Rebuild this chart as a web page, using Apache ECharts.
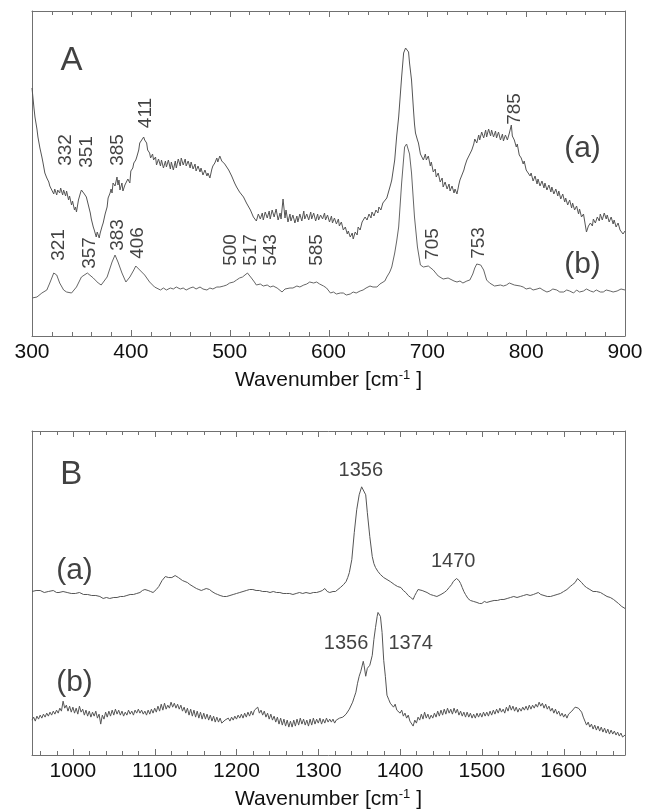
<!DOCTYPE html>
<html>
<head>
<meta charset="utf-8">
<script src="https://cdn.jsdelivr.net/npm/echarts@6/dist/echarts.min.js"></script>
<style>
html,body{margin:0;padding:0;background:#fff;}
#chart{width:658px;height:811px;}
</style>
</head>
<body>
<div id="chart"></div>
<script>
// ---------- Panel A data: wavenumber [cm-1], intensity (arb. units) ----------
const specA_a = [[300,248],[302,228],[303,219],[305,207],[306,199],[308,188],[310,179],[311,174],[313,163],[315,158],[317,154],[318,150],[320,148],
[322,142],[323,147],[325,141],[326,146],[328,143],[329,148],[331,141],[332,146],[334,140],[335,145],[337,136],[338,140],[340,131],[341,135],[343,126],[344,129],[345,124],
[347,136],[349,143],[350,146],[352,145],[353,142],[355,139],[357,131],[359,123],[360,117],[362,109],[363,106],[365,99],[366,104],[368,98],[369,103],
[371,110],[372,113],[374,122],[376,129],[377,138],[379,143],[380,147],[381,143],[382,153],[384,150],[386,159],[387,151],[388,156],[389,146],[391,153],[392,145],[394,151],[396,149],[397,157],[399,153],[400,165],[402,168],[403,173],[405,176],[406,179],[408,186],[409,193],[411,196],[413,199],[414,196],
[416,193],[417,186],[419,183],[420,178],[422,182],[423,176],[425,179],[426,171],[428,177],[430,170],[431,176],[433,168],[435,175],[436,169],[438,176],[440,167],[441,174],[443,166],[445,175],[446,168],[448,177],[450,170],[451,178],[453,171],[455,177],[456,170],[458,175],[460,168],[461,174],[463,167],[465,172],[466,165],[468,170],[470,164],[471,168],[473,161],[475,166],[477,160],[478,163],[480,158],[482,167],[483,170],[485,173],[487,178],[488,174],[490,180],[492,175],[494,177],[495,172],[497,173],[499,166],[500,167],[502,160],[504,159],
[505,153],[507,149],[508,151],[510,144],[512,146],[514,139],[515,141],[517,133],[519,134],[521,126],[522,128],[524,119],[526,121],[527,115],[529,122],[531,117],[533,123],[534,116],[536,124],
[538,118],[540,125],[541,117],[543,126],[545,119],[547,127],[549,116],[551,123],[552,117],[554,137],[556,118],[557,126],[559,114],[561,122],[562,115],[564,121],[566,113],[568,120],[569,114],[571,122],[573,115],[575,125],[576,117],[578,122],[580,116],[582,124],[583,117],[585,123],[587,115],[589,122],[590,116],[592,121],[594,117],[596,123],[597,116],[599,121],[601,114],[603,120],[604,113],[606,118],[608,112],[610,117],[611,110],[613,114],[615,106],[617,109],[619,102],[620,105],[622,99],[624,103],[625,97],[627,104],[629,101],[630,109],[632,106],[634,114],[636,112],[637,119],[639,116],[641,122],[643,118],[644,124],[646,120],[648,126],[650,123],[651,129],[653,126],[655,133],[657,131],[659,138],[661,140],[663,152],[664,156],
[667,176],[669,200],[671,219],[674,259],[676,283],[678,288],[680,289],[681,284],[682,273],[684,256],[686,226],[687,212],[688,203],[690,196],[691,193],[693,182],[696,176],
[698,182],[699,176],[701,180],[703,170],[704,174],[706,164],[708,167],[709,159],[711,163],[713,154],[715,158],[716,149],[718,154],[720,147],[722,152],[723,145],[725,150],[727,143],[728,147],[730,142],[732,152],[733,156],[735,161],[737,166],[738,170],[740,176],[742,175],[743,182],[745,186],[747,192],[748,197],[750,193],[752,201],[753,196],[755,204],[757,198],[759,206],[760,199],[762,207],[764,200],[765,206],[767,199],[769,205],[770,198],[772,204],[774,196],[776,202],[777,195],[779,201],[781,196],[783,203],[785,211],[786,200],[788,196],[790,189],[791,192],[793,181],[795,178],[797,172],[798,175],[800,166],[802,168],[804,160],[805,163],[807,155],[809,160],[811,152],[812,157],[814,150],[816,155],[818,148],[819,153],[821,146],[823,151],[825,144],[826,149],[828,142],[830,147],[832,140],[833,145],[835,137],[837,142],[839,134],[840,138],[842,131],[844,136],[846,128],[847,133],[849,126],[851,130],[853,122],[854,127],[856,119],[858,122],[860,110],[861,104],[863,110],[865,113],[867,110],[868,117],[870,113],[872,119],[874,115],[875,122],[877,116],[879,123],[881,117],[882,121],[884,114],[886,119],[888,112],[889,116],[891,109],[893,113],[895,106],[896,108],[898,102],[900,105]];
const specA_b = [[300,38],[305,39],[310,43],[315,46],[318,53],[322,63],[325,61],[328,53],[332,46],[335,44],[340,43],[345,49],[350,59],[356,63],[362,58],[367,53],[370,51],[376,59],[381,74],[384,81],[387,74],[391,63],[395,54],[399,59],[403,66],[405,70],[409,66],[414,61],[419,54],[424,49],[430,46],[433,48],[436,46],[440,48],[443,47],[446,49],[450,47],[453,48],[456,46],[460,48],[463,49],[466,47],[470,49],[473,47],[477,46],[480,48],[483,47],[487,49],[490,49],[494,50],[497,51],[500,53],[504,54],[507,56],[510,58],[513,59],[515,61],[518,63],[520,61],[522,58],[525,54],[527,51],[531,52],[534,50],[538,51],[541,49],[544,50],[548,48],[550,46],[553,44],[556,47],[558,46],[561,48],[564,48],[568,50],[571,49],[575,51],[578,52],[581,54],[585,53],[588,54],[591,52],[595,50],[598,48],[602,43],[605,44],[608,42],[612,43],[615,43],[618,41],[622,42],[625,44],[628,43],[632,45],[635,46],[638,48],[642,50],[645,49],[649,49],[652,52],[654,51],[657,55],[659,59],[662,64],[664,69],[667,83],[669,95],[671,109],[674,153],[677,189],[679,192],[681,192],[682,182],[684,163],[687,119],[690,89],[693,71],[696,69],[698,68],[701,70],[703,69],[706,66],[708,64],[711,60],[713,58],[716,57],[718,56],[721,58],[723,57],[727,55],[730,54],[733,55],[736,53],[740,55],[743,56],[746,62],[748,68],[750,72],[752,73],[754,71],[757,66],[760,56],[763,53],[765,51],[768,50],[770,49],[774,51],[777,50],[780,51],[783,53],[785,52],[788,51],[790,50],[794,50],[797,49],[800,47],[804,48],[807,46],[811,47],[814,48],[817,46],[821,44],[824,45],[827,47],[831,46],[834,44],[838,44],[841,46],[844,45],[848,43],[851,46],[854,44],[858,45],[861,47],[865,45],[868,44],[871,46],[875,44],[878,44],[881,46],[885,45],[888,44],[892,45],[896,47],[900,46]];

// ---------- Panel B data ----------
const specB_a = [[950,164],[955,165],[960,165],[965,163],[970,164],[976,165],[980,163],[983,163],[988,164],[993,163],[998,162],[1003,162],[1008,163],[1013,161],[1018,161],[1023,160],[1028,160],[1033,159],[1037,157],[1041,158],[1045,157],[1050,158],[1054,158],[1058,159],[1062,159],[1066,160],[1070,161],[1074,161],[1078,162],[1082,163],[1085,165],[1088,166],[1092,165],[1095,164],[1098,163],[1100,164],[1102,166],[1105,169],[1107,171],[1109,175],[1111,177],[1113,179],[1115,180],[1117,178],[1119,179],[1121,178],[1123,179],[1125,180],[1127,179],[1129,178],[1131,177],[1134,175],[1137,174],[1140,173],[1143,171],[1147,169],[1151,167],[1154,166],[1157,165],[1160,166],[1163,167],[1165,168],[1167,166],[1170,164],[1174,162],[1177,161],[1180,160],[1184,159],[1188,159],[1192,160],[1196,161],[1200,162],[1204,163],[1208,164],[1212,165],[1216,166],[1220,166],[1224,165],[1228,165],[1232,164],[1237,164],[1241,163],[1245,164],[1249,163],[1253,163],[1257,162],[1261,162],[1265,162],[1269,161],[1273,162],[1277,163],[1281,162],[1285,163],[1290,162],[1294,163],[1298,163],[1302,164],[1305,165],[1308,167],[1311,164],[1314,163],[1318,164],[1321,164],[1324,166],[1327,168],[1331,171],[1334,174],[1336,178],[1338,183],[1341,196],[1344,223],[1347,246],[1350,261],[1353,269],[1355,269],[1358,261],[1360,243],[1363,219],[1366,199],[1368,192],[1370,188],[1373,184],[1376,181],[1380,178],[1384,176],[1388,174],[1393,171],[1397,169],[1401,168],[1404,165],[1407,163],[1410,160],[1413,158],[1416,156],[1418,160],[1420,163],[1422,166],[1424,167],[1427,165],[1429,164],[1433,163],[1437,161],[1441,160],[1445,159],[1450,161],[1454,163],[1457,165],[1460,168],[1463,171],[1465,174],[1467,176],[1469,177],[1471,176],[1472,175],[1474,172],[1476,168],[1478,164],[1480,161],[1483,157],[1486,155],[1490,154],[1494,153],[1497,152],[1500,152],[1503,154],[1506,153],[1510,154],[1515,155],[1519,155],[1523,156],[1527,156],[1531,157],[1535,158],[1539,159],[1543,158],[1547,159],[1551,160],[1555,161],[1559,160],[1563,161],[1566,162],[1569,163],[1572,161],[1576,160],[1580,159],[1584,159],[1588,160],[1592,161],[1596,162],[1600,164],[1604,166],[1608,169],[1611,171],[1614,173],[1617,177],[1619,175],[1622,173],[1625,170],[1628,168],[1632,166],[1636,164],[1640,164],[1645,163],[1649,161],[1653,159],[1657,158],[1661,156],[1664,154],[1667,152],[1671,149],[1675,147]];
const specB_b = [[950,35],[952,38],[954,34],[956,39],[958,36],[960,40],[962,37],[964,41],[966,38],[968,42],[970,39],[972,43],[974,40],[976,44],[978,41],[980,45],[982,42],[984,47],[986,44],[988,54],[990,47],[992,50],[994,44],[996,49],[998,43],[1000,48],[1002,42],[1004,47],[1006,41],[1008,49],[1010,43],[1012,46],[1014,40],[1016,45],[1018,39],[1020,44],[1022,38],[1024,43],[1026,39],[1028,44],[1030,37],[1032,41],[1034,31],[1036,40],[1038,36],[1040,43],[1042,38],[1044,44],[1046,39],[1048,45],[1050,40],[1052,46],[1054,41],[1056,45],[1058,40],[1060,44],[1062,39],[1064,43],[1066,40],[1068,45],[1070,41],[1072,44],[1074,40],[1076,45],[1078,42],[1080,46],[1082,42],[1084,45],[1086,41],[1088,44],[1090,40],[1092,45],[1094,41],[1096,46],[1098,42],[1100,47],[1102,43],[1104,49],[1106,44],[1108,51],[1110,45],[1112,52],[1114,46],[1116,50],[1118,47],[1120,53],[1122,48],[1124,52],[1126,47],[1128,51],[1130,46],[1132,50],[1134,44],[1136,48],[1138,42],[1140,47],[1142,40],[1144,46],[1146,39],[1148,45],[1150,38],[1152,44],[1154,37],[1156,43],[1158,36],[1160,42],[1162,36],[1164,41],[1166,35],[1168,40],[1170,34],[1172,39],[1174,33],[1176,38],[1178,33],[1180,37],[1182,32],[1184,31],[1186,35],[1188,33],[1190,37],[1192,34],[1194,38],[1196,35],[1198,39],[1200,36],[1202,40],[1204,37],[1206,41],[1208,37],[1210,42],[1212,38],[1214,43],[1216,39],[1218,44],[1220,40],[1222,45],[1224,43],[1226,48],[1228,42],[1230,45],[1232,40],[1234,44],[1236,38],[1238,42],[1240,36],[1242,41],[1244,35],[1246,39],[1248,33],[1250,38],[1252,31],[1254,37],[1256,30],[1258,36],[1260,29],[1262,35],[1264,28],[1266,34],[1268,28],[1270,35],[1272,29],[1274,36],[1276,30],[1278,37],[1280,31],[1282,36],[1284,30],[1286,35],[1288,29],[1290,36],[1292,30],[1294,37],[1296,31],[1298,36],[1300,32],[1302,37],[1304,31],[1306,36],[1308,32],[1310,37],[1312,33],[1314,36],
[1316,33],[1318,36],[1320,32],[1322,35],[1324,33],[1326,37],[1328,35],[1330,38],[1332,37],[1334,41],[1336,40],[1338,46],[1340,48],[1342,53],[1344,58],[1346,63],[1348,72],[1350,79],[1352,84],[1353,86],[1355,94],[1356,90],[1358,79],[1360,87],[1361,86],[1363,90],[1364,89],[1366,100],[1368,116],[1370,128],[1372,139],[1373,143],[1375,144],[1376,139],[1378,123],[1380,95],[1382,79],[1384,60],[1386,56],[1388,52],[1390,53],[1392,48],[1394,51],[1396,45],[1398,47],[1400,42],[1402,45],[1404,39],[1406,42],[1408,37],[1410,40],[1412,34],[1414,35],[1416,29],[1418,35],[1420,32],[1422,38],[1424,35],[1426,41],[1428,36],[1430,43],[1432,37],[1434,41],[1436,36],[1438,40],[1440,37],[1442,42],[1444,38],[1446,44],[1448,39],[1450,45],[1452,40],[1454,46],[1456,41],[1458,47],[1460,42],[1462,46],[1464,41],[1466,47],[1468,42],[1470,46],[1472,40],[1474,44],[1476,39],[1478,43],[1480,38],[1482,43],[1484,38],[1486,42],[1488,37],[1490,41],[1492,37],[1494,42],[1496,38],[1498,42],[1500,38],[1502,43],[1504,39],[1506,43],[1508,39],[1510,44],[1512,40],[1514,45],[1516,41],[1518,46],[1520,42],[1522,47],[1524,43],[1526,46],[1528,42],[1530,48],[1532,44],[1534,50],[1536,45],[1538,49],[1540,44],[1542,48],[1544,43],[1546,47],[1548,44],[1550,48],[1552,45],[1554,49],[1556,45],[1558,50],[1560,46],[1562,50],[1564,47],[1566,51],[1568,48],[1570,53],[1572,49],[1574,52],[1576,47],[1578,51],[1580,46],[1582,49],[1584,44],[1586,47],[1588,42],[1590,46],[1592,41],[1594,44],[1596,39],[1598,42],[1600,38],[1602,41],[1604,37],[1606,41],[1608,40],[1610,44],[1612,45],[1614,48],[1616,50],[1618,47],[1620,45],[1622,43],[1624,38],[1626,34],[1628,30],[1630,33],[1632,28],[1634,31],[1636,26],[1638,30],[1640,25],[1642,29],[1644,24],[1646,28],[1648,23],[1650,27],[1652,22],[1654,26],[1656,21],[1658,25],[1660,21],[1662,24],[1664,20],[1666,23],[1668,19],[1670,22],[1672,18],[1675,20]];

// ---------- tick labels ----------
const ticksA = [300, 400, 500, 600, 700, 800, 900];
const ticksB = [1000, 1100, 1200, 1300, 1400, 1500, 1600];
const rangeA = [300, 900];
const rangeB = [950, 1675];
const intensityRange = [0, 325];

// ---------- annotations: [text, wavenumber, intensity] ----------
const peakLabelsA = [['332',334,186],['351',355,184],['385',387,186],['411',415,223],
  ['321',327,91],['357',358,83],['383',387,101],['406',407,93],
  ['500',501,86],['517',521,86],['543',542,86],['585',588,86],
  ['705',705,92],['753',752,93],['785',788,227]];
const traceLabelsA = [['A',340,275,'big'],['(a)',857,187,'mid'],['(b)',857,71,'mid']];
const peakLabelsB = [['1356',1352,285],['1470',1465,194],['1356',1334,112],['1374',1413,112]];
const traceLabelsB = [['B',998,281,'big'],['(a)',1002,185,'mid'],['(b)',1002,72,'mid']];

// ---------- build ----------
const FONT = '"Liberation Sans", Arial, Helvetica, sans-serif';
const frameCol = '#707070';
const grids = [
  {left:32, top:11, width:593, height:325, show:false},
  {left:32, top:431, width:593, height:325, show:false}
];
const labelStyle = {margin:6, fontSize:21, color:'#111', fontFamily:FONT, formatter:v=>String(v)};
const axisName = {name:'{n|Wavenumber [cm}{s|-1}{n| ]}', nameLocation:'middle', nameGap:33,
  nameTextStyle:{fontFamily:FONT, color:'#111', rich:{n:{fontSize:21, fontFamily:FONT, color:'#111'}, s:{fontSize:13, fontFamily:FONT, color:'#111', padding:[0,0,10,0]}}}};
const lineSt = {show:true, onZero:false, lineStyle:{color:frameCol, width:1}};

function xAxisPair(g, range, ticks){
  return [
    Object.assign({type:'value', gridIndex:g, min:range[0], max:range[1], position:'bottom',
      splitLine:{show:false}, axisLine:lineSt, axisTick:{show:false},
      axisLabel:Object.assign({show:true, customValues:ticks}, labelStyle)}, axisName),
    {type:'value', gridIndex:g, min:range[0], max:range[1], position:'top',
      splitLine:{show:false}, axisLine:lineSt, axisTick:{show:false}, axisLabel:{show:false}}
  ];
}
const xAxis = xAxisPair(0, rangeA, ticksA).concat(xAxisPair(1, rangeB, ticksB));
const yAxis = [];
[0,1].forEach(g => {
  yAxis.push({type:'value', gridIndex:g, position:'left', min:intensityRange[0], max:intensityRange[1],
    splitLine:{show:false}, axisTick:{show:false}, axisLabel:{show:false}, axisLine:lineSt});
  yAxis.push({type:'value', gridIndex:g, position:'right', min:intensityRange[0], max:intensityRange[1],
    splitLine:{show:false}, axisTick:{show:false}, axisLabel:{show:false}, axisLine:lineSt});
});

// tick marks every 20 (majors at labelled values)
function tickData(range, ticks){
  const out = []; const s = Math.ceil(range[0]/20)*20;
  for (let v = s; v <= range[1]; v += 20) out.push([v, ticks.indexOf(v) >= 0 ? 1 : 0]);
  return out;
}
// bottom ticks: custom series with filled rects
function tickSeries(xi, yi, range, ticks){
  return {type:'custom', xAxisIndex:xi, yAxisIndex:yi, silent:true, animation:false, clip:false, z:5,
    data: tickData(range, ticks),
    renderItem: function(params, api){
      const x = api.value(0); const len = api.value(1) ? 6 : 4;
      const pb = api.coord([x, intensityRange[0]]);
      const pt = api.coord([x, intensityRange[1]]);
      const px = Math.round(pb[0]);
      return {type:'group', children:[
        {type:'rect', shape:{x:px, y:pb[1]-len, width:1, height:len}, style:{fill:frameCol}},
        {type:'rect', shape:{x:px, y:pt[1], width:1, height:len}, style:{fill:frameCol}}
      ]};
    }};
}

function lineSeries(data, xi, yi, col){
  return {type:'line', xAxisIndex:xi, yAxisIndex:yi, data:data, showSymbol:false, symbol:'none',
    lineStyle:{color:col, width:1}, silent:true, animation:false};
}
function textSeries(items, xi, yi, rotate, fontSize){
  return {type:'scatter', xAxisIndex:xi, yAxisIndex:yi, symbolSize:0, silent:true, animation:false,
    data: items.map(it => ({name:it[0], value:[it[1], it[2]]})),
    label:{show:true, position:'inside', formatter:p=>p.name, rotate:rotate, fontSize:fontSize,
      fontFamily:FONT, color:'#111', align:'center', verticalAlign:'middle'}};
}
function bigSeries(items, xi, yi){
  return {type:'scatter', xAxisIndex:xi, yAxisIndex:yi, symbolSize:0, silent:true, animation:false,
    data: items.map(it => ({name:it[0], value:[it[1], it[2]], label:{fontSize: it[3]==='big'?33:30}})),
    label:{show:true, position:'inside', formatter:p=>p.name, fontFamily:FONT, color:'#111', align:'center', verticalAlign:'middle'}};
}

const option = {
  backgroundColor:'#fff',
  animation:false,
  grid: grids,
  xAxis: xAxis,
  yAxis: yAxis,
  series: [
    lineSeries(specA_a, 0, 0, '#555'),
    lineSeries(specA_b, 0, 0, '#666'),
    lineSeries(specB_a, 2, 2, '#555'),
    lineSeries(specB_b, 2, 2, '#555'),
    textSeries(peakLabelsA, 0, 0, 90, 19),
    bigSeries(traceLabelsA, 0, 0),
    textSeries(peakLabelsB, 2, 2, 0, 20),
    bigSeries(traceLabelsB, 2, 2),
    tickSeries(0, 0, rangeA, ticksA),
    tickSeries(2, 2, rangeB, ticksB)
  ]
};
const chart = echarts.init(document.getElementById('chart'), null, {renderer:'canvas'});
chart.setOption(option);

// Fallback: also place tick marks through the library's own coordinate conversion
try {
  const els = [];
  [[0, rangeA, ticksA], [1, rangeB, ticksB]].forEach(([g, range, ticks]) => {
    const xi = g * 2, yi = g * 2;
    tickData(range, ticks).forEach(([v, major]) => {
      const len = major ? 6 : 4;
      const pb = chart.convertToPixel({xAxisIndex: xi, yAxisIndex: yi}, [v, intensityRange[0]]);
      const pt = chart.convertToPixel({xAxisIndex: xi, yAxisIndex: yi}, [v, intensityRange[1]]);
      if (!pb || !pt) return;
      const px = Math.round(pb[0]) + 0.5;
      els.push({type:'line', silent:true, z:10, shape:{x1:px, y1:pb[1], x2:px, y2:pb[1]-len}, style:{stroke:frameCol, lineWidth:1}});
      els.push({type:'line', silent:true, z:10, shape:{x1:px, y1:pt[1], x2:px, y2:pt[1]+len}, style:{stroke:frameCol, lineWidth:1}});
    });
  });
  chart.setOption({graphic: {elements: els}});
} catch (e) { console.error(e); }
</script>
</body>
</html>
